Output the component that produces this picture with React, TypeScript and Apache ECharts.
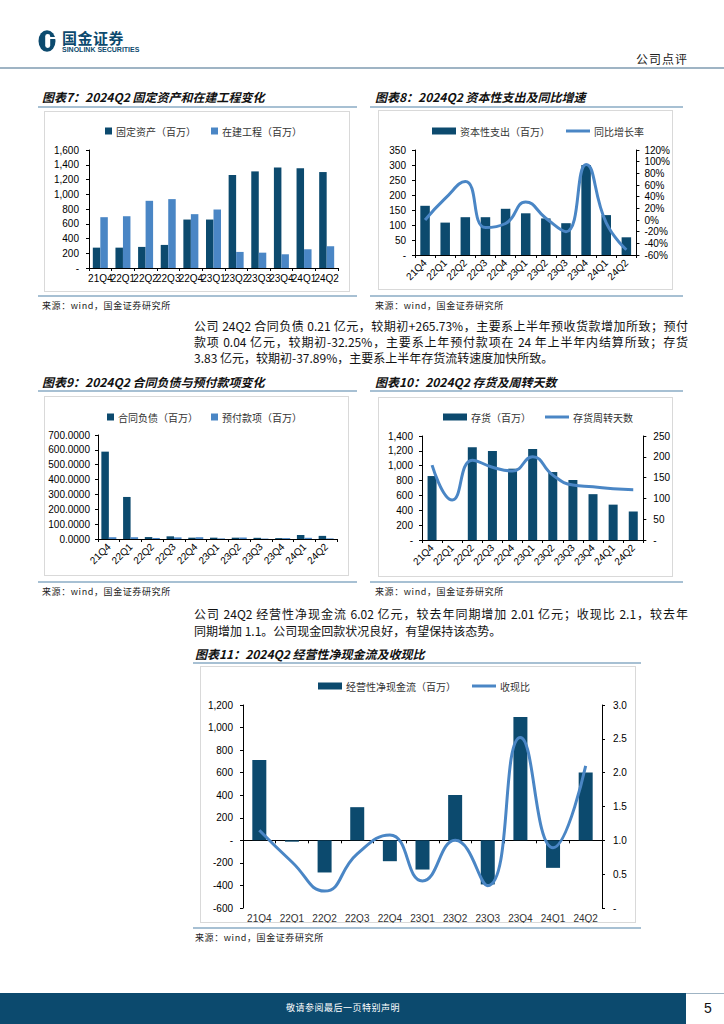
import React, { useEffect, useRef } from 'react';
import * as echarts from 'echarts';

const quarters = ['21Q4', '22Q1', '22Q2', '22Q3', '22Q4', '23Q1', '23Q2', '23Q3', '23Q4', '24Q1', '24Q2'];

// 图表7
const fixedAssets = [276, 276, 286, 313, 657, 657, 1260, 1310, 1364, 1351, 1301];
const constructionInProgress = [689, 702, 911, 934, 730, 793, 218, 208, 186, 254, 295];
// 图表8
const capex = [164, 108, 126, 126, 154, 139, 122, 106, 300, 133, 59];
const capexYoY = [0, 37, 66, -13, -6, 31, 3, -20, 95, -5, -51];
// 图表9
const contractLiabilities = [588, 283, 13, 18, 9, 9, 9, 8, 6, 27, 21];
const prepayments = [12, 12, 7, 11, 12, 4, 10, 3, 6, 8, 4];
// 图表10
const inventory = [861, null, 1247, 1198, 960, 1225, 915, 808, 617, 476, 383];
const inventoryDays = [180, 96, 192, 175, 166, 200, 156, 132, 128, 123, 121];
// 图表11
const operatingCashFlow = [712, -12, -285, 294, -185, -259, 401, -391, 1094, -244, 602];
const cashCollectionRatio = [1.15, 0.68, 0.25, 0.8, 1.08, 0.4, 1.0, 0.33, 2.52, 0.89, 2.1];

const DARK = '#0c4a6e';
const LIGHT = '#4a86c5';
const LINE = '#4a86c5';
const AXIS_FONT = '"Liberation Sans", Arial, sans-serif';
const CJK_FONT = '"Noto Sans CJK SC", "Noto Sans", sans-serif';
const LINE_ICON = 'path://M0,0L24,0L24,3L0,3Z';

const numFmt = (v: number) => (v === 0 ? '-' : v.toLocaleString('en-US'));

function catAxis(labelExtra: any = {}, lineExtra: any = {}) {
  return {
    type: 'category',
    data: quarters,
    axisLine: { lineStyle: { color: '#000', width: 1 }, ...lineExtra },
    axisTick: { show: true, length: 3, lineStyle: { color: '#000' } },
    axisLabel: { interval: 0, color: '#000', fontFamily: AXIS_FONT, fontSize: 10, ...labelExtra },
  };
}

function valAxis(min: number, max: number, interval: number, fmt: any, margin = 9, extra: any = {}) {
  return {
    type: 'value',
    min,
    max,
    interval,
    axisLine: { show: true, lineStyle: { color: '#000', width: 1 } },
    axisTick: { show: true, length: 3, lineStyle: { color: '#000' } },
    splitLine: { show: false },
    axisLabel: { formatter: fmt, color: '#000', fontFamily: AXIS_FONT, fontSize: 10, margin },
    ...extra,
  };
}

function legend(left: number, top: number, gap: number, iw: number, ih: number, data: any[]) {
  return {
    left,
    top,
    itemGap: gap,
    itemWidth: iw,
    itemHeight: ih,
    symbolKeepAspect: true,
    data,
    textStyle: { fontFamily: CJK_FONT, fontSize: 10, color: '#333', padding: [0, 0, 0, -1] },
  };
}

const option7 = {
  animation: false,
  legend: legend(56, 10, 15, 7, 7, [
    { name: '固定资产（百万）', icon: 'rect' },
    { name: '在建工程（百万）', icon: 'rect' },
  ]),
  grid: { left: 45, right: 12, top: 39, bottom: 24 },
  xAxis: catAxis({ fontSize: 10, margin: 5 }, { onZero: false }),
  yAxis: valAxis(0, 1600, 200, numFmt, 10),
  series: [
    { name: '固定资产（百万）', type: 'bar', data: fixedAssets, barWidth: 7.5, barGap: '0%', itemStyle: { color: DARK } },
    { name: '在建工程（百万）', type: 'bar', data: constructionInProgress, barWidth: 7.5, barGap: '0%', itemStyle: { color: LIGHT } },
  ],
};

const option8 = {
  animation: false,
  legend: legend(49, 11, 16, 24, 7, [
    { name: '资本性支出（百万）', icon: 'rect' },
    { name: '同比增长率', icon: LINE_ICON },
  ]),
  grid: { left: 37, right: 29, top: 40, bottom: 35 },
  xAxis: catAxis({ rotate: 45, margin: 6 }, { onZero: false }),
  yAxis: [
    valAxis(0, 350, 50, numFmt, 9),
    valAxis(-60, 120, 20, (v: number) => v + '%', 8, { position: 'right' }),
  ],
  series: [
    { name: '资本性支出（百万）', type: 'bar', data: capex, barWidth: 9.5, itemStyle: { color: DARK } },
    {
      name: '同比增长率', type: 'line', yAxisIndex: 1, data: capexYoY, smooth: 0.5, symbol: 'none',
      lineStyle: { color: LINE, width: 3 }, itemStyle: { color: LINE },
    },
  ],
};

const option9 = {
  animation: false,
  legend: legend(58, 11, 13, 7, 7, [
    { name: '合同负债（百万）', icon: 'rect' },
    { name: '预付款项（百万）', icon: 'rect' },
  ]),
  grid: { left: 54, right: 12, top: 39, bottom: 37 },
  xAxis: catAxis({ rotate: 45, margin: 6 }, { onZero: false }),
  yAxis: valAxis(0, 700, 100, (v: number) => v.toFixed(4), 8),
  series: [
    { name: '合同负债（百万）', type: 'bar', data: contractLiabilities, barWidth: 7.5, barGap: '0%', itemStyle: { color: DARK } },
    { name: '预付款项（百万）', type: 'bar', data: prepayments, barWidth: 7.5, barGap: '0%', itemStyle: { color: LIGHT } },
  ],
};

const option10 = {
  animation: false,
  legend: legend(60, 10, 14, 24, 7, [
    { name: '存货（百万）', icon: 'rect' },
    { name: '存货周转天数', icon: LINE_ICON },
  ]),
  grid: { left: 44, right: 25, top: 39, bottom: 37 },
  xAxis: catAxis({ rotate: 45, margin: 6 }, { onZero: false }),
  yAxis: [
    valAxis(0, 1400, 200, numFmt, 9),
    valAxis(0, 250, 50, numFmt, 10, { position: 'right' }),
  ],
  series: [
    { name: '存货（百万）', type: 'bar', data: inventory, barWidth: 9, itemStyle: { color: DARK } },
    {
      name: '存货周转天数', type: 'line', yAxisIndex: 1, data: inventoryDays, smooth: 0.5, symbol: 'none',
      lineStyle: { color: LINE, width: 3 }, itemStyle: { color: LINE },
    },
  ],
};

const option11 = {
  animation: false,
  legend: legend(113, 10, 16, 24, 7, [
    { name: '经营性净现金流（百万）', icon: 'rect' },
    { name: '收现比', icon: LINE_ICON },
  ]),
  grid: { left: 43, right: 34, top: 39, bottom: 13 },
  xAxis: catAxis({ margin: 5, color: '#333' }, { onZero: true, onZeroAxisIndex: 0 }),
  yAxis: [
    valAxis(-600, 1200, 200, numFmt, 10),
    valAxis(0, 3, 0.5, (v: number) => (v === 0 ? '-' : v.toFixed(1)), 11, { position: 'right' }),
  ],
  series: [
    { name: '经营性净现金流（百万）', type: 'bar', data: operatingCashFlow, barWidth: 14, itemStyle: { color: DARK } },
    {
      name: '收现比', type: 'line', yAxisIndex: 1, data: cashCollectionRatio, smooth: 0.5, symbol: 'none',
      lineStyle: { color: LINE, width: 3 }, itemStyle: { color: LINE }, z: 5,
    },
  ],
};

function EChart({ box, option }: { box: number[]; option: any }) {
  const ref = useRef<HTMLDivElement>(null);
  useEffect(() => {
    const chart = echarts.init(ref.current as HTMLDivElement, null, { renderer: 'svg' });
    chart.setOption(option);
    return () => chart.dispose();
  }, []);
  const [left, top, width, height] = box;
  return (
    <>
      <div style={{ position: 'absolute', left, top, width, height, boxSizing: 'border-box', border: '1px solid #d9d9d9' }} />
      <div ref={ref} style={{ position: 'absolute', left, top, width, height }} />
    </>
  );
}

const titleStyle: React.CSSProperties = {
  position: 'absolute',
  fontFamily: CJK_FONT,
  fontWeight: 700,
  fontStyle: 'italic',
  fontSize: 12,
  lineHeight: '14px',
  color: '#111',
  whiteSpace: 'nowrap',
};
const sourceStyle: React.CSSProperties = {
  position: 'absolute',
  fontFamily: CJK_FONT,
  fontSize: 9,
  lineHeight: '10px',
  color: '#222',
  letterSpacing: 0.6,
  whiteSpace: 'nowrap',
};
const hLine = (left: number, top: number, width: number, color = '#a7c0d3', h = 1.5) => (
  <div style={{ position: 'absolute', left, top, width, height: h, background: color }} />
);
const paraLine = (top: number, text: string, justify: boolean) => (
  <div
    style={{
      position: 'absolute', left: 194, top, width: 494, fontFamily: CJK_FONT, fontSize: 12, lineHeight: '16px',
      color: '#111', textAlign: justify ? 'justify' : 'left', textAlignLast: justify ? 'justify' : 'left', whiteSpace: 'nowrap',
    } as React.CSSProperties}
  >
    {text}
  </div>
);

export default function App() {
  useEffect(() => {
    document.body.style.margin = '0';
  }, []);
  return (
    <div style={{ position: 'absolute', left: 0, top: 0, width: 724, height: 1024, overflow: 'hidden', background: '#fff' }}>
      {/* header */}
      <svg style={{ position: 'absolute', left: 38, top: 30 }} width="18" height="22" viewBox="0 0 18 22">
        <ellipse cx="9" cy="11" rx="8.5" ry="10.8" fill={DARK} />
        <rect x="7.2" y="4" width="5" height="14" rx="2.4" fill="#fff" />
        <rect x="11" y="7" width="7" height="2" fill="#fff" />
      </svg>
      <div style={{ position: 'absolute', left: 62, top: 29, fontFamily: CJK_FONT, fontWeight: 700, fontSize: 15, lineHeight: '17px', color: DARK, letterSpacing: 0.5 }}>国金证券</div>
      <div style={{ position: 'absolute', left: 62, top: 46, fontFamily: AXIS_FONT, fontWeight: 700, fontSize: 7, lineHeight: '8px', color: DARK, whiteSpace: 'nowrap' }}>SINOLINK SECURITIES</div>
      <div style={{ position: 'absolute', left: 636, top: 52, fontFamily: CJK_FONT, fontSize: 12, lineHeight: '14px', color: '#222', letterSpacing: 1 }}>公司点评</div>
      {hLine(0, 67, 724, '#9fb4c4', 1.5)}

      {/* charts 7 & 8 */}
      <div style={{ ...titleStyle, left: 42, top: 90 }}>图表7：2024Q2 固定资产和在建工程变化</div>
      <div style={{ ...titleStyle, left: 375, top: 90 }}>图表8：2024Q2 资本性支出及同比增速</div>
      {hLine(38, 106, 319)}
      {hLine(370, 106, 313)}
      <EChart box={[44, 111, 306, 181]} option={option7} />
      <EChart box={[378, 110, 295, 180]} option={option8} />
      {hLine(38, 295, 319)}
      {hLine(370, 295, 313)}
      <div style={{ ...sourceStyle, left: 42, top: 301 }}>来源：wind，国金证券研究所</div>
      <div style={{ ...sourceStyle, left: 375, top: 301 }}>来源：wind，国金证券研究所</div>

      {/* paragraph 1 */}
      {paraLine(318, '公司 24Q2 合同负债 0.21 亿元，较期初+265.73%，主要系上半年预收货款增加所致；预付', true)}
      {paraLine(334, '款项 0.04 亿元，较期初-32.25%，主要系上年预付款项在 24 年上半年内结算所致；存货', true)}
      {paraLine(350, '3.83 亿元，较期初-37.89%，主要系上半年存货流转速度加快所致。', false)}

      {/* charts 9 & 10 */}
      <div style={{ ...titleStyle, left: 42, top: 375 }}>图表9：2024Q2 合同负债与预付款项变化</div>
      <div style={{ ...titleStyle, left: 375, top: 375 }}>图表10：2024Q2 存货及周转天数</div>
      {hLine(38, 390, 319)}
      {hLine(370, 390, 313)}
      <EChart box={[44, 396, 305, 180]} option={option9} />
      <EChart box={[378, 397, 295, 180]} option={option10} />
      {hLine(38, 581, 319)}
      {hLine(370, 581, 313)}
      <div style={{ ...sourceStyle, left: 42, top: 587 }}>来源：wind，国金证券研究所</div>
      <div style={{ ...sourceStyle, left: 375, top: 587 }}>来源：wind，国金证券研究所</div>

      {/* paragraph 2 */}
      {paraLine(606, '公司 24Q2 经营性净现金流 6.02 亿元，较去年同期增加 2.01 亿元；收现比 2.1，较去年', true)}
      {paraLine(623, '同期增加 1.1。公司现金回款状况良好，有望保持该态势。', false)}

      {/* chart 11 */}
      <div style={{ ...titleStyle, left: 195, top: 647 }}>图表11：2024Q2 经营性净现金流及收现比</div>
      {hLine(193, 662, 448)}
      <EChart box={[200, 666, 436, 257]} option={option11} />
      {hLine(193, 927, 448)}
      <div style={{ ...sourceStyle, left: 195, top: 933 }}>来源：wind，国金证券研究所</div>

      {/* footer */}
      <div style={{ position: 'absolute', left: 0, top: 993, width: 686, height: 31, background: DARK }} />
      {hLine(686, 993, 38, '#9fb4c4', 1)}
      <div style={{ position: 'absolute', left: 0, top: 1002, width: 686, textAlign: 'center', fontFamily: CJK_FONT, fontSize: 9, lineHeight: '12px', color: '#fff', letterSpacing: 0.5 }}>敬请参阅最后一页特别声明</div>
      <div style={{ position: 'absolute', left: 700, top: 1000, width: 16, textAlign: 'center', fontFamily: AXIS_FONT, fontSize: 14, lineHeight: '16px', color: '#111' }}>5</div>
    </div>
  );
}
